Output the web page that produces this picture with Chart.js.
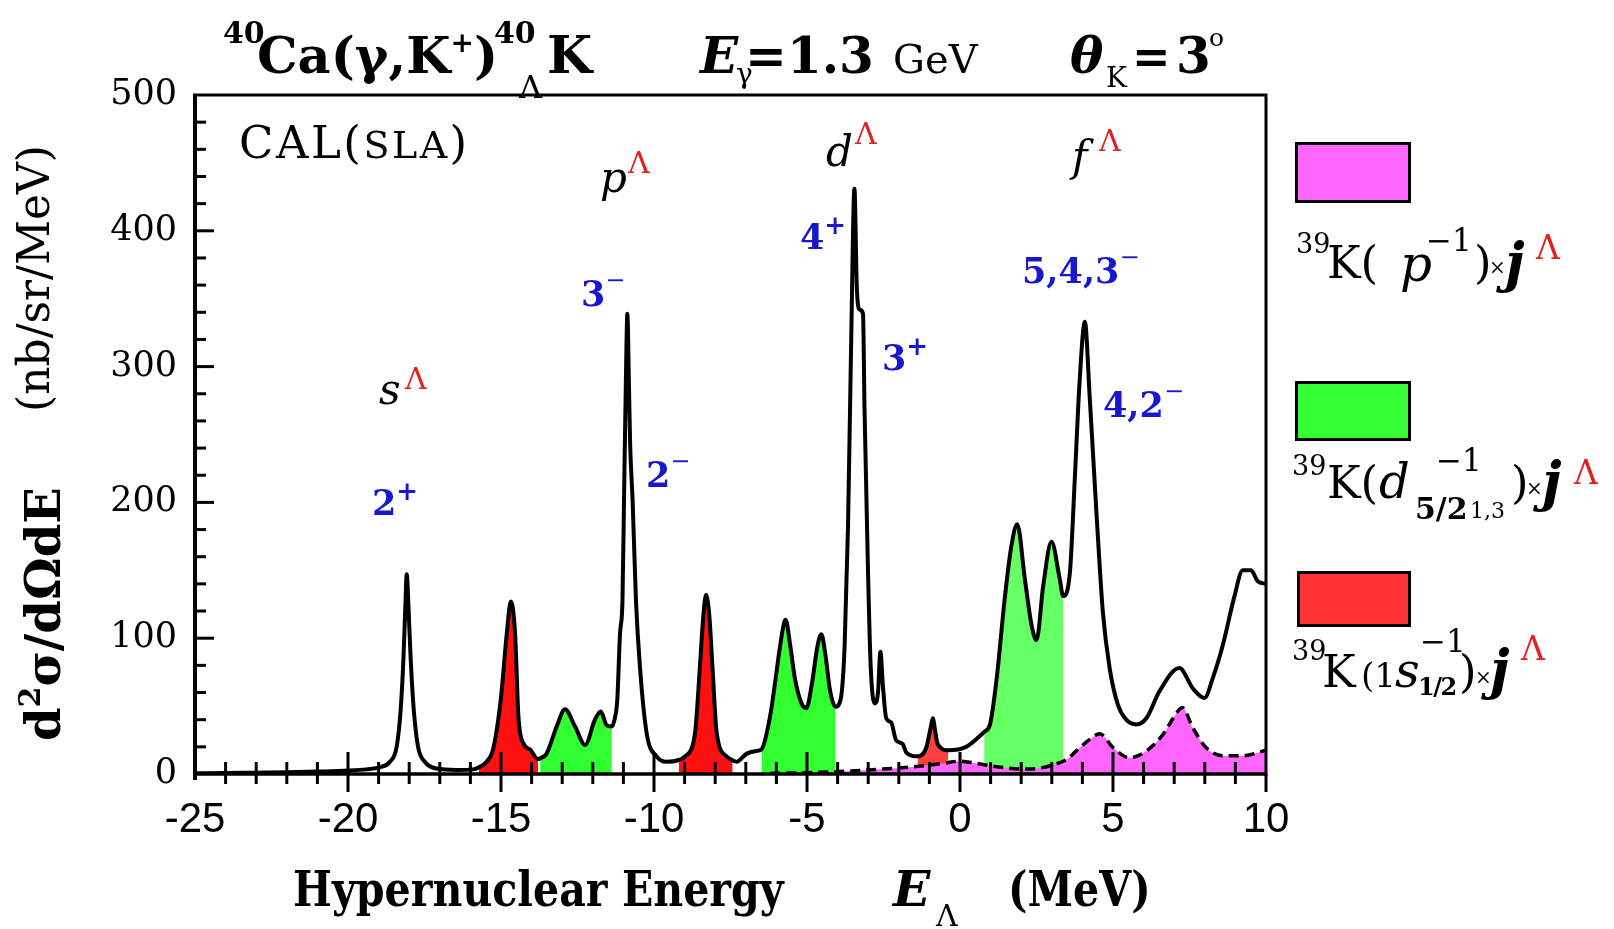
<!DOCTYPE html>
<html><head><meta charset="utf-8"><title>40Ca(γ,K+) hypernuclear spectrum</title>
<script src="https://cdn.jsdelivr.net/npm/chart.js@4.4.1/dist/chart.umd.min.js"></script>
<style>
html,body{margin:0;padding:0;background:#fff;overflow:hidden}
#wrap{position:relative;width:1614px;height:929px;background:#fff}
#c{position:absolute;left:0;top:0}
.t{position:absolute;white-space:nowrap;line-height:1;font-family:"DejaVu Serif",serif;color:#000}
.box{position:absolute;border:3px solid #000;box-sizing:border-box}
</style></head>
<body><div id="wrap"><canvas id="c" width="1614" height="929"></canvas><div id="txt"></div></div>
<script>
// ---------------- data ----------------
const energy = [-25,-24,-23,-22,-21,-20,-19.4,-18.95,-18.63,-18.41,-18.28,-18.19,-18.13,-18.08,-18.02,-17.95,-17.85,-17.71,-17.49,-17.11,-16.45,-15.91,
 -15.72,-15.47,-15.25,-15.01,-14.81,-14.68,-14.54,-14.43,-14.27,-14.05,-13.79,
 -13.72,-13.51,-13.18,-12.91,-12.58,-12.25,-11.93,-11.74,-11.55,-11.38,
 -11.27,-11.2,-11.11,-11.03,-10.98,-10.92,-10.87,-10.82,-10.78,-10.7,-10.59,-10.46,-10.24,-9.91,-9.59,
 -9.19,-8.99,-8.66,-8.5,-8.39,-8.3,-8.19,-8.09,-7.95,-7.62,-7.43,
 -7.3,-6.97,-6.65,
 -6.49,-6.21,-5.88,-5.78,-5.70,-5.55,-5.40,-5.18,-5.02,-4.85,-4.65,-4.53,-4.40,-4.25,-4.07,
 -3.9,-3.77,-3.66,-3.55,-3.45,-3.37,-3.28,-3.17,-3.12,-3.01,-2.92,-2.79,-2.68,-2.60,-2.52,-2.41,-2.25,-2.09,-1.87,-1.76,
 -1.39,-1.11,-0.95,-0.89,-0.8,-0.73,-0.38,
 0.2,0.63,
 0.79,0.98,1.2,1.47,1.68,1.87,2.12,2.34,2.5,2.72,2.99,3.26,3.37,
 3.59,3.75,3.91,4.08,4.24,4.46,4.67,4.89,5.16,5.43,5.76,6.09,6.52,7.17,7.61,7.99,8.26,8.59,8.97,9.24,9.51,9.73,10];
const sigmaTotal = [0.5,0.7,1,1.3,1.8,2.5,3.4,5,9,20,47,84,121,147,121,84,47,20,9,4,3,3.4,
 5,9,19,54.5,103.6,127,103.6,42,22.6,18,11,
 11.5,15,35,47.6,35,21.4,40,46,36,35,
 42,54.5,103.6,128,202,288,339,288,243,202,128,79,30,12.8,9,
 10.3,12.8,30,79,116,132,116,79,30,12.8,10,
 9,15,17,
 18,42,94,108,113.5,95,71,52,48.6,65,95,103,88,62,49.5,
 55,94.6,182,327,431,357,342,339,269,153,80,52,60,90,65,41,38,25,22,16,
 13,19,35,41,30,22,17.5,
 20,27.6,
 31,36.5,70.6,131,168,184,143.5,109.5,98.5,138.7,171,143.5,131,
 148,216.5,289.5,333,277,192,119,78,51,40,36.5,41,61,78,63,56,70.6,95,131,150,150,142,140];
// 39K(p^-1) x j^Lambda contribution (dashed, magenta)
const energyP = [-6.2,-5,-4,-3,-2,-1,-0.5,0,0.5,1,1.5,2,2.5,3,3.5,3.8,4.24,4.57,5,5.54,6.09,6.63,7.01,7.26,7.61,8.04,8.59,9.24,10];
const sigmaP  = [0.5,1,1.8,3,4.5,6.5,8,9.5,8,6,4.5,3.6,4,6.5,11,17,25.5,29.7,19.5,12,17,29,42.6,49,34,19.5,13.4,13.4,17.5];
// energy ranges of the 39K(1s1/2^-1) (red) and 39K(d5/2^-1) (green) components
const redRanges   = [[-15.72,-13.79],[-9.19,-7.43],[-1.39,-0.38]];
const greenRanges = [[-13.72,-11.38],[-6.49,-4.07],[0.79,3.37]];
const xTickValues = [-25,-20,-15,-10,-5,0,5,10];
const yTickValues = [0,100,200,300,400,500];
const xMinorStep = 1, yMinorStep = 20;

// ---------------- chart ----------------
const pts = (xs, ys) => xs.map((x, i) => ({x: x, y: ys[i]}));
const total = pts(energy, sigmaTotal);
const part = (a, b) => total.filter(p => p.x >= a - 1e-9 && p.x <= b + 1e-9);
const redCols = ['#ff1010', '#ff1010', '#ff4040'];
const greenCols = ['#30ff30', '#30ff30', '#66ff66'];

const datasets = [
  {label: 'total', data: total, borderColor: '#000', borderWidth: 4, pointRadius: 0, fill: false,
   cubicInterpolationMode: 'monotone', order: 0},
  {label: 'p-hole', data: pts(energyP, sigmaP), borderColor: '#000', borderWidth: 3.5, borderDash: [10, 6],
   backgroundColor: '#ff66ff', pointRadius: 0, fill: 'origin', cubicInterpolationMode: 'monotone', order: 1}
];
redRanges.forEach((r, i) => datasets.push({label: 's-hole' + i, data: part(r[0], r[1]), borderWidth: 0,
  borderColor: 'rgba(0,0,0,0)', backgroundColor: redCols[i], pointRadius: 0, fill: 'origin',
  cubicInterpolationMode: 'monotone', order: 2}));
greenRanges.forEach((r, i) => datasets.push({label: 'd-hole' + i, data: part(r[0], r[1]), borderWidth: 0,
  borderColor: 'rgba(0,0,0,0)', backgroundColor: greenCols[i], pointRadius: 0, fill: 'origin',
  cubicInterpolationMode: 'monotone', order: 2}));

const frame = {
  id: 'frame',
  afterDatasetsDraw(chart) {
    const {ctx, scales: {x, y}} = chart;
    const x0 = x.getPixelForValue(-25), x1 = x.getPixelForValue(10);
    const y0 = y.getPixelForValue(0), y1 = y.getPixelForValue(500);
    ctx.save();
    ctx.strokeStyle = '#000';
    ctx.lineCap = 'butt';
    ctx.lineWidth = 3;
    ctx.beginPath(); ctx.moveTo(x0 - 2, y1); ctx.lineTo(x1, y1); ctx.lineTo(x1, y0 + 2); ctx.stroke();
    ctx.lineWidth = 4;
    ctx.beginPath(); ctx.moveTo(x0, y1 - 1); ctx.lineTo(x0, y0 + 6); ctx.stroke();
    ctx.lineWidth = 3.5;
    ctx.beginPath(); ctx.moveTo(x0, y0); ctx.lineTo(x1, y0); ctx.stroke();
    ctx.lineWidth = 3;
    for (let v = -25 + xMinorStep; v < 10; v += xMinorStep) {
      const px = x.getPixelForValue(v);
      const major = xTickValues.includes(v);
      ctx.beginPath(); ctx.moveTo(px, y0 - (major ? 22 : 12)); ctx.lineTo(px, y0 + (major ? 18 : 10)); ctx.stroke();
    }
    { const px = x.getPixelForValue(10); ctx.beginPath(); ctx.moveTo(px, y0); ctx.lineTo(px, y0 + 18); ctx.stroke(); }
    for (let v = yMinorStep; v < 500; v += yMinorStep) {
      const py = y.getPixelForValue(v);
      const major = yTickValues.includes(v);
      ctx.beginPath(); ctx.moveTo(x0, py); ctx.lineTo(x0 + (major ? 19 : 11), py); ctx.stroke();
    }
    ctx.restore();
  }
};

new Chart(document.getElementById('c'), {
  type: 'line',
  data: {datasets: datasets},
  options: {
    responsive: false, animation: false, devicePixelRatio: 1,
    layout: {padding: {top: 95, right: 348, left: 0, bottom: 0}},
    plugins: {legend: {display: false}, tooltip: {enabled: false}},
    elements: {line: {tension: 0}},
    scales: {
      x: {type: 'linear', min: -25, max: 10,
          afterBuildTicks: s => { s.ticks = xTickValues.map(v => ({value: v})); },
          afterFit: s => { s.height = 155; },
          grid: {display: false, drawTicks: false}, border: {display: false},
          ticks: {color: '#000', padding: 21, maxRotation: 0, autoSkip: false,
                  font: {family: '"Liberation Sans Narrow", "Liberation Sans", sans-serif', size: 42}}},
      y: {type: 'linear', min: 0, max: 500,
          afterBuildTicks: s => { s.ticks = yTickValues.map(v => ({value: v})); },
          afterFit: s => { s.width = 195; },
          grid: {display: false, drawTicks: false}, border: {display: false},
          ticks: {color: '#000', padding: 18, font: {family: '"DejaVu Serif", serif', size: 35}}}
    }
  },
  plugins: [frame]
});

// ---------------- text ----------------
const txt = document.getElementById('txt');
function T(x, base, html, fs, style) {
  const d = document.createElement('div');
  d.className = 't';
  d.innerHTML = html;
  d.style.cssText = (style || '');
  d.style.left = x + 'px';
  d.style.fontSize = fs + 'px';
  d.style.top = (base - 0.846 * fs) + 'px';
  txt.appendChild(d);
  return d;
}
function R(xBase, yStart, html, fs, style) {
  const d = T(0, 0, html, fs, style);
  d.style.left = (xBase - 0.846 * fs) + 'px';
  d.style.top = yStart + 'px';
  d.style.transform = 'rotate(-90deg)';
  d.style.transformOrigin = '0 0';
  return d;
}
function B(x, y, w, h, col) {
  const d = document.createElement('div');
  d.className = 'box';
  d.style.cssText = 'left:' + x + 'px;top:' + y + 'px;width:' + w + 'px;height:' + h + 'px;background:' + col;
  txt.appendChild(d);
}
const BOLD = 'font-weight:bold;';
const RED = 'color:#e2201c;';
const BLUE = 'color:#1717cf;font-weight:bold;';
const supP = '<span style="font-size:26px;position:relative;top:-15px">+</span>';
const supM = '<span style="font-size:24px;font-weight:normal;position:relative;top:-18px">\u2212</span>';

// title
T(223, 43, '40', 30, BOLD);
T(257, 73, 'Ca(γ,K<span style="font-size:28px;position:relative;top:-21px">+</span>)', 51, BOLD);
T(494, 43, '40', 30, BOLD);
T(519, 98, 'Λ', 32, '');
T(547, 73, 'K', 52, BOLD);
T(700, 73, '<i>E</i>', 50, BOLD);
T(736, 84, 'γ', 28, '');
T(745, 73, '=1.3', 50, BOLD);
T(893, 73, 'GeV', 40, '');
T(1070, 73, '<i>θ</i>', 50, BOLD);
T(1106, 88, 'K', 28, '');
T(1132, 73, '=', 46, BOLD);
T(1176, 73, '3', 50, BOLD);
T(1209, 46, 'o', 25, '');

// axis titles
T(293, 906, 'Hypernuclear Energy', 49, BOLD + 'transform:scaleX(0.84);transform-origin:0 0;');
T(893, 906, '<i>E</i>', 49, BOLD);
T(936, 926, 'Λ', 30, '');
T(1008, 906, '(MeV)', 49, BOLD + 'transform:scaleX(0.84);transform-origin:0 0;');
R(60, 741, 'd<span style="font-size:30px;position:relative;top:-20px">2</span>σ/dΩdE', 48, BOLD);
R(49, 412, '(nb/sr/MeV)', 44, '');

// in-plot labels
T(239, 158, 'CAL(<span style="font-size:38px">SLA</span>)', 45, 'letter-spacing:2.5px;');
T(379, 405, '<i>s</i>', 42, '');
T(405, 389, 'Λ', 30, RED);
T(372, 515, '2' + supP, 35, BLUE);
T(600, 193, '<i>p</i>', 42, '');
T(628, 173, 'Λ', 30, RED);
T(581, 306, '3' + supM, 35, BLUE);
T(646, 487, '2' + supM, 35, BLUE);
T(826, 167, '<i>d</i>', 42, '');
T(855, 144, 'Λ', 30, RED);
T(800, 249, '4' + supP, 35, BLUE);
T(882, 370, '3' + supP, 35, BLUE);
T(1072, 172, '<i>f</i>', 42, '');
T(1099, 151, 'Λ', 30, RED);
T(1022, 283, '5,4,3' + supM, 35, BLUE);
T(1103, 417, '4,2' + supM, 35, BLUE);

// legend
B(1295, 142, 116, 61, '#ff66ff');
B(1295, 381, 116, 60, '#33ff33');
B(1297, 571, 114, 56, '#ff3333');

T(1296, 253, '39', 27, '');
T(1327, 278, 'K(', 45, '');
T(1400, 281, '<i>p</i>', 50, '');
T(1426, 251, '\u22121', 31, '');
T(1474, 278, ')', 45, '');
T(1489, 274, '×', 20, '');
T(1505, 281, '<i>j</i>', 54, BOLD);
T(1536, 259, 'Λ', 33, RED);

T(1292, 475, '39', 27, '');
T(1327, 498, 'K(', 45, '');
T(1379, 498, '<i>d</i>', 48, '');
T(1436, 471, '\u22121', 31, '');
T(1415, 519, '5/2', 30, BOLD);
T(1470, 519, '1,3', 22, '');
T(1511, 498, ')', 45, '');
T(1526, 495, '×', 20, '');
T(1542, 500, '<i>j</i>', 54, BOLD);
T(1574, 484, 'Λ', 33, RED);

T(1292, 660, '39', 27, '');
T(1322, 687, 'K', 45, '');
T(1361, 687, '(1', 34, '');
T(1395, 687, '<i>s</i>', 48, '');
T(1420, 652, '\u22121', 31, '');
T(1418, 695, '1/2', 24, BOLD + 'letter-spacing:-1.5px;');
T(1459, 687, ')', 45, '');
T(1475, 684, '×', 20, '');
T(1490, 688, '<i>j</i>', 54, BOLD);
T(1521, 660, 'Λ', 33, RED);
</script>
</body></html>
